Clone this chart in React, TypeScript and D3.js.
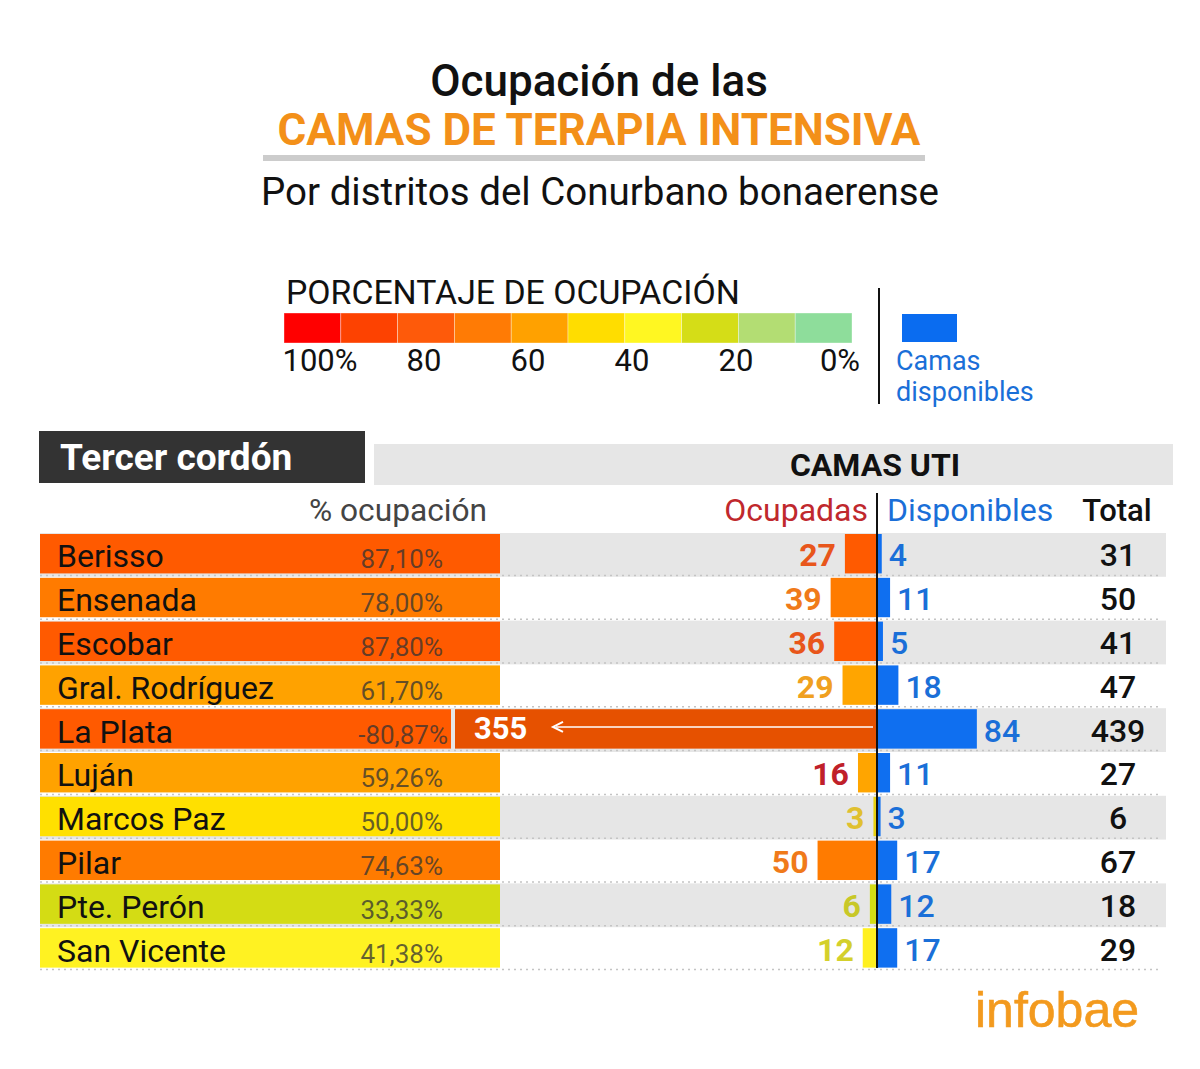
import * as React from "react";
import * as d3 from "d3";

const districts = ["Berisso", "Ensenada", "Escobar", "Gral. Rodríguez", "La Plata", "Luján", "Marcos Paz", "Pilar", "Pte. Perón", "San Vicente"];
const pctLabels = ["87,10%", "78,00%", "87,80%", "61,70%", "-80,87%", "59,26%", "50,00%", "74,63%", "33,33%", "41,38%"];
const occupied = [27, 39, 36, 29, 355, 16, 3, 50, 6, 12];
const available = [4, 11, 5, 18, 84, 11, 3, 17, 12, 17];
const totals = [31, 50, 41, 47, 439, 27, 6, 67, 18, 29];
const rowColors = ["#ff5a00", "#ff7b00", "#ff5a00", "#ffa200", "#ff5a00", "#ffa200", "#ffe000", "#ff7b00", "#d4dc14", "#fff222"];
const occColors = ["#ff5a00", "#ff7b00", "#ff5a00", "#ffa500", "#e65100", "#ffa500", "#e8d010", "#ff7b00", "#d4dc14", "#fff020"];
const occLabelColors = ["#e8561b", "#f07a1a", "#e8561b", "#f0a020", "#ffffff", "#c0202a", "#e0c030", "#f07a1a", "#c8c828", "#d4d02c"];

const legendColors = ["#ff0000", "#fd4201", "#fe5a0a", "#ff7b05", "#ffa100", "#ffdd00", "#fff722", "#d5dd17", "#b3dd73", "#8edd9b"];
const legendTicks = [100, 80, 60, 40, 20, 0];

const FONT = "Roboto, 'Noto Sans', sans-serif";
const BLUE = "#1a6fd8";

export default function App() {
  const W = 1200;
  const H = 1069;
  const x0 = 877;

  // row bands: step ~43.8px
  const y = d3.scaleBand<string>().domain(districts).range([534, 534 + 43.8 * 9.9]).paddingInner(0.1).paddingOuter(0);
  const step = y.step();
  const bw = y.bandwidth();
  const beds = d3.scaleLinear().domain([0, 355]).range([0, 422]);

  const legBand = d3.scaleBand<number>().domain(d3.range(legendColors.length)).range([284, 852]);
  const legTick = d3.scaleLinear().domain([100, 0]).range([320, 840]);

  return (
    <svg width={W} height={H} style={{ position: "absolute", left: 0, top: 0, background: "#fff" }} fontFamily={FONT}>
      <rect width={W} height={H} fill="#fff" />
      {/* titles */}
      <text x={599} y={96} textAnchor="middle" fontSize={44} fontWeight={500} fill="#111">Ocupación de las</text>
      <text x={599} y={145} textAnchor="middle" fontSize={44} fontWeight={700} fill="#f39019">CAMAS DE TERAPIA INTENSIVA</text>
      <rect x={263} y={155} width={662} height={6} fill="#cccccc" />
      <text x={600} y={205} textAnchor="middle" fontSize={38.5} fill="#111">Por distritos del Conurbano bonaerense</text>

      {/* legend */}
      <text x={286} y={304} fontSize={33.8} fill="#111">PORCENTAJE DE OCUPACIÓN</text>
      {legendColors.map((c, i) => (
        <rect key={i} x={legBand(i)} y={313} width={legBand.bandwidth()} height={30} fill={c} stroke="#fff" strokeOpacity={0.5} strokeWidth={0.7} />
      ))}
      {legendTicks.map((t) => (
        <text key={t} x={legTick(t)} y={371} textAnchor="middle" fontSize={31} fill="#111">
          {t === 100 || t === 0 ? `${t}%` : t}
        </text>
      ))}
      <line x1={879} x2={879} y1={288} y2={404} stroke="#111" strokeWidth={2} />
      <rect x={902} y={314} width={55} height={28} fill="#0a6cf0" />
      <text x={896} y={370} fontSize={27} fill={BLUE}>Camas</text>
      <text x={896} y={401} fontSize={27} fill={BLUE}>disponibles</text>

      {/* headers */}
      <rect x={39} y={431} width={326} height={52} fill="#333333" />
      <text x={60} y={470} fontSize={37} fontWeight={700} fill="#fff">Tercer cordón</text>
      <rect x={374} y={444} width={799} height={41} fill="#e6e6e6" />
      <text x={875} y={476} textAnchor="middle" fontSize={32} fontWeight={700} fill="#111">CAMAS UTI</text>
      <text x={398} y={521} textAnchor="middle" fontSize={31.7} fill="#444">% ocupación</text>
      <text x={868} y={521} textAnchor="end" fontSize={32} fill="#c0282d">Ocupadas</text>
      <text x={887} y={521} fontSize={32} fill={BLUE}>Disponibles</text>
      <text x={1117} y={521} textAnchor="middle" fontSize={31} fontWeight={500} fill="#111">Total</text>

      {/* rows */}
      {districts.map((d, i) => {
        const top = y(d)!;
        const base = top + bw - 6;
        const occW = beds(occupied[i]);
        const avW = beds(available[i]);
        const inside = occW > 300;
        const leftEnd = inside ? x0 - occW - 4 : 500;
        return (
          <g key={d}>
            {i % 2 === 0 && <rect x={40} y={top - 1} width={1126} height={step} fill="#e6e6e6" />}
            <rect x={40} y={top} width={leftEnd - 40} height={bw} fill={rowColors[i]} />
            <text x={57} y={base} fontSize={32} fill="#111">{d}</text>
            <text x={inside ? leftEnd - 3 : 443} y={base + 1} textAnchor="end" fontSize={26} fill="#333" fillOpacity={0.75}>{pctLabels[i]}</text>
            <rect x={x0 - occW} y={top} width={occW} height={bw} fill={occColors[i]} />
            <rect x={x0} y={top} width={avW} height={bw} fill="#0f6ff0" />
            {inside ? (
              <g>
                <text x={x0 - occW + 19} y={base - 4} fontSize={31} fontWeight={700} fill="#fff">{occupied[i]}</text>
                <line x1={x0 - 4} x2={556} y1={top + bw / 2 - 2} y2={top + bw / 2 - 2} stroke="#fff" strokeWidth={1.5} />
                <path d={`M563,${top + bw / 2 - 7} L553,${top + bw / 2 - 2} L563,${top + bw / 2 + 3}`} fill="none" stroke="#fff" strokeWidth={2} />
              </g>
            ) : (
              <text x={x0 - occW - 9} y={base - 1} textAnchor="end" fontSize={32} fontWeight={700} fill={occLabelColors[i]}>{occupied[i]}</text>
            )}
            <text x={x0 + avW + 7} y={base - 1} fontSize={32} fontWeight={500} fill={BLUE}>{available[i]}</text>
            <text x={1118} y={base - 1} textAnchor="middle" fontSize={32} fontWeight={500} fill="#111">{totals[i]}</text>
            <line x1={40} x2={1162} y1={top + bw + 2} y2={top + bw + 2} stroke="#c4c4c4" strokeWidth={1.5} strokeDasharray="2,4" />
          </g>
        );
      })}
      <line x1={x0} x2={x0} y1={493} y2={968} stroke="#111" strokeWidth={2} />

      {/* logo */}
      <text x={975} y={1027} fontSize={50} fontFamily="'Liberation Sans', Arial, sans-serif" fill="#f39a1e" stroke="#f39a1e" strokeWidth={0.6}>infobae</text>
    </svg>
  );
}
